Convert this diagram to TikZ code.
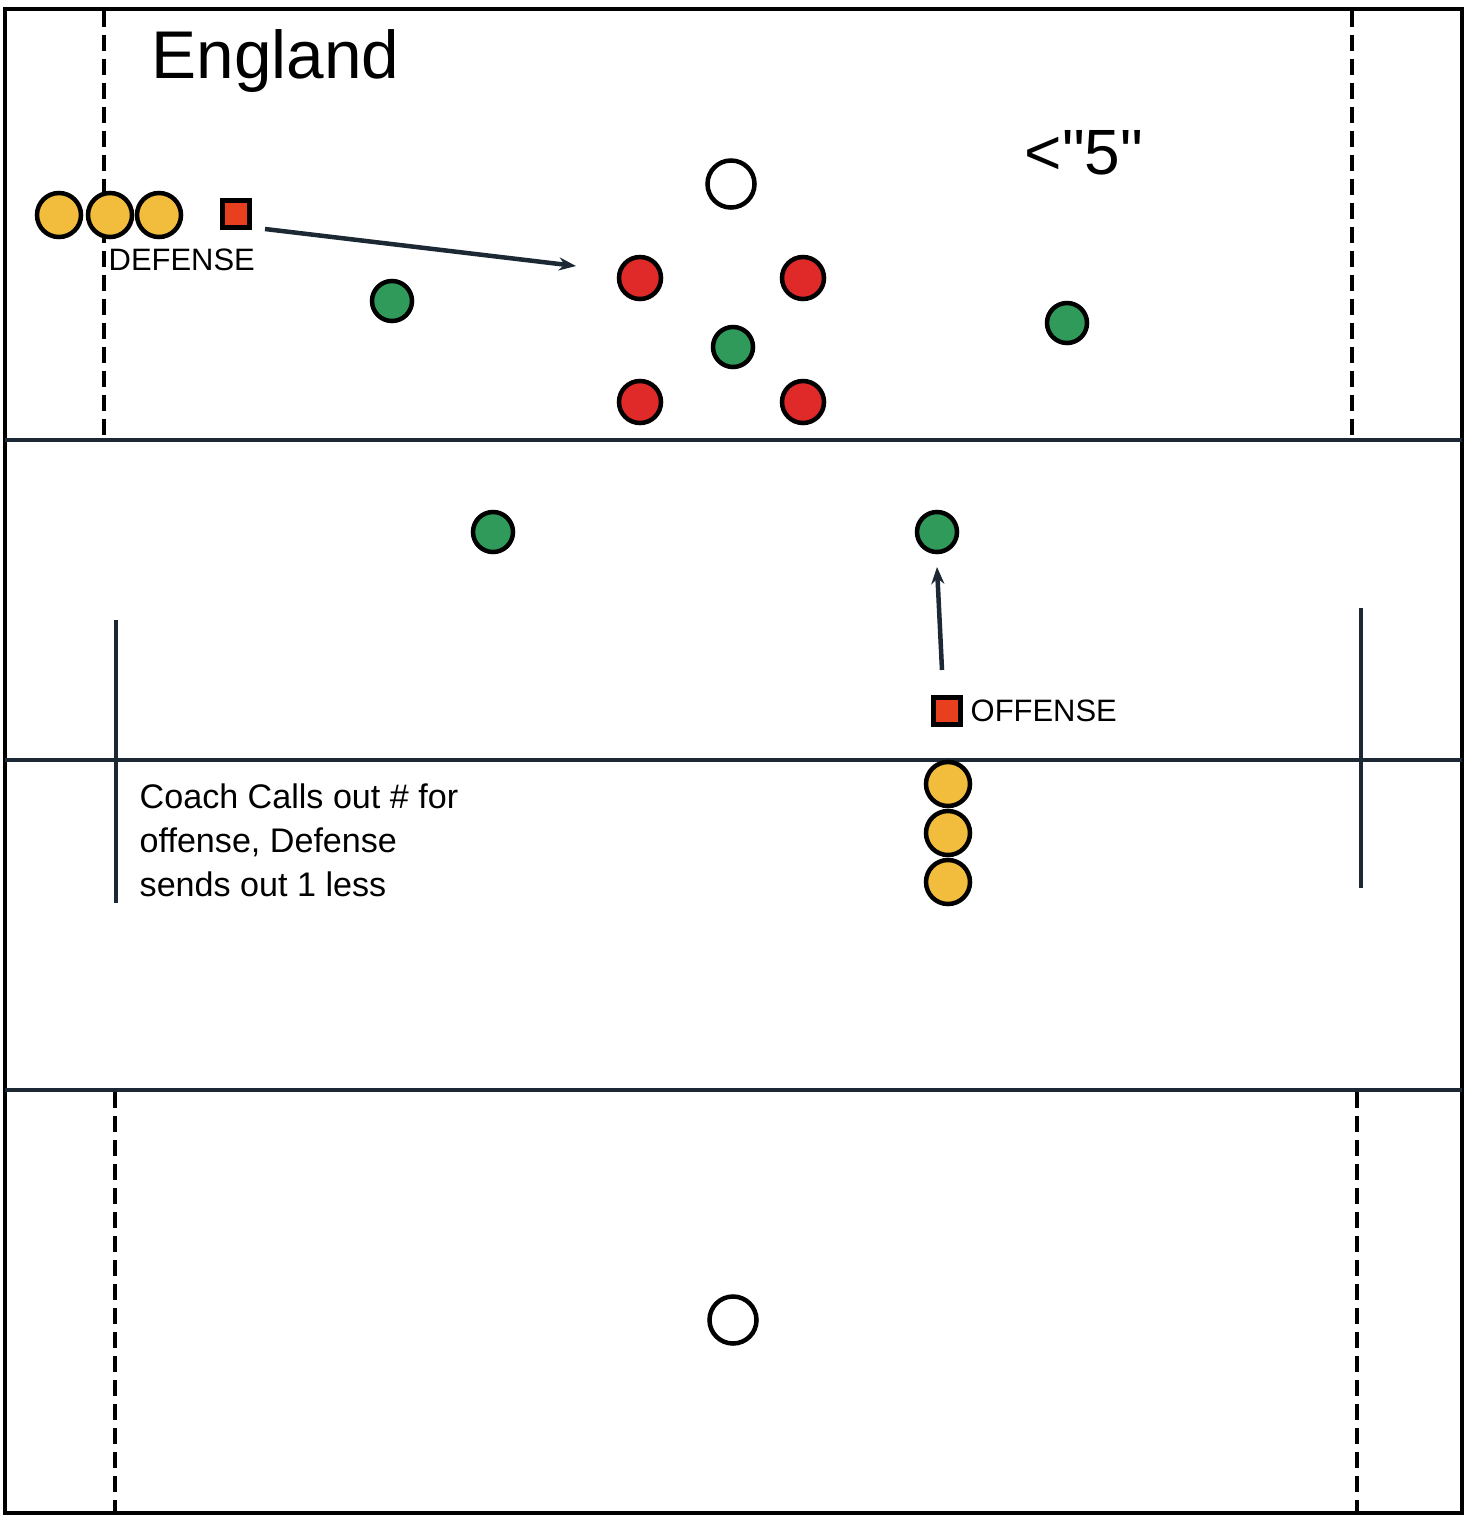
\documentclass[tikz,border=0pt]{standalone}
\usepackage{fontspec}
\setmainfont{Liberation Sans}
\newfontfamily\rawsans{Liberation Sans}[Ligatures=TeXOff]
\usetikzlibrary{arrows.meta}
\definecolor{linecol}{HTML}{1C2833}
\definecolor{yel}{HTML}{F2BD3C}
\definecolor{redp}{HTML}{E02A2A}
\definecolor{grn}{HTML}{2F9A5A}
\definecolor{sqred}{HTML}{E8401E}
\tikzset{
  px/.style={x=0.01cm,y=-0.01cm},
  fieldline/.style={draw=linecol,line width=0.045cm},
  dashline/.style={draw=black,line width=0.045cm,dash pattern=on 0.16cm off 0.08cm},
  solidmark/.style={draw=linecol,line width=0.045cm},
  player/.style={circle,draw=black,line width=0.045cm,inner sep=0pt},
  yellowp/.style={player,fill=yel,minimum size=0.44cm},
  redpl/.style={player,fill=redp,minimum size=0.42cm},
  greenp/.style={player,fill=grn,minimum size=0.40cm},
  whitep/.style={player,fill=white,minimum size=0.47cm},
  cone/.style={rectangle,draw=black,line width=0.045cm,fill=sqred,minimum size=0.27cm,inner sep=0pt},
  run/.style={draw=linecol,line width=0.045cm,-{Stealth[length=0.17cm,width=0.13cm]}},
  lbl/.style={inner sep=0pt,anchor=base west,text=black},
}
\begin{document}
\begin{tikzpicture}[px]
\useasboundingbox (0,0) rectangle (1469,1518);
% field
\draw[fieldline,draw=black] (5,9) rectangle (1462,1513);
\draw[fieldline] (5,440) -- (1462,440);
\draw[fieldline] (5,760) -- (1462,760);
\draw[fieldline] (5,1090) -- (1462,1090);
\draw[dashline] (104,11) -- (104,440);
\draw[dashline] (1352,11) -- (1352,440);
\draw[dashline] (115,1092) -- (115,1511);
\draw[dashline] (1357,1092) -- (1357,1511);
\draw[solidmark] (116,620) -- (116,903);
\draw[solidmark] (1361,608) -- (1361,888);
% texts
\node[lbl,font=\fontsize{19.2}{23}\selectfont] (title) at (151,78) {England};
\node[lbl,font=\rawsans\fontsize{18.2}{22}\selectfont] (lt5) at (1024,174) {<"5"};
\node[lbl,font=\fontsize{8.8}{10}\selectfont] (deftxt) at (108,270) {DEFENSE};
\node[lbl,font=\fontsize{8.8}{10}\selectfont] (offtxt) at (970,721) {OFFENSE};
\node[lbl,font=\fontsize{9.7}{12.5}\selectfont,align=left] (coach) at (139,896) {Coach Calls out \# for\\offense, Defense\\sends out 1 less};
% defense line
\node[yellowp] (y1) at (59,215) {};
\node[yellowp] (y2) at (110,215) {};
\node[yellowp] (y3) at (159,215) {};
\node[cone] (dsq) at (236,214) {};
% centre group
\node[whitep] (w1) at (731,184) {};
\node[redpl] (r1) at (640,278) {};
\node[redpl] (r2) at (803,278) {};
\node[redpl] (r3) at (640,402) {};
\node[redpl] (r4) at (803,402) {};
\node[greenp] (g1) at (733,347) {};
\node[greenp] (g2) at (392,301) {};
\node[greenp] (g3) at (1067,323) {};
\node[greenp] (g4) at (493,532) {};
\node[greenp] (g5) at (937,532) {};
% offense
\node[cone] (osq) at (947,711) {};
\node[yellowp] (o1) at (948,784) {};
\node[yellowp] (o2) at (948,833) {};
\node[yellowp] (o3) at (948,882) {};
\node[whitep] (w2) at (733,1320) {};
% arrows
\coordinate (dstart) at (265,229);
\coordinate (dend) at (576,266);
\draw[run] (dstart) -- (dend);
\coordinate (ostart) at (942,670);
\coordinate (oend) at (937,567);
\draw[run] (ostart) -- (oend);
\end{tikzpicture}
\end{document}
